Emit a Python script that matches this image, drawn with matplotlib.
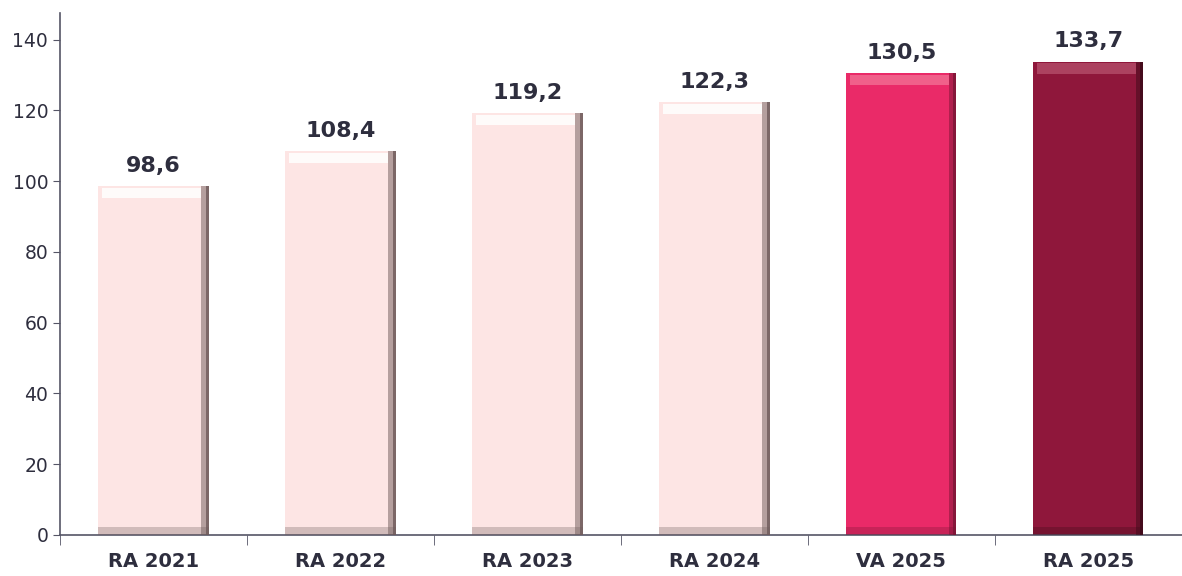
import numpy as np
import matplotlib.pyplot as plt

categories = ['RA 2021', 'RA 2022', 'RA 2023', 'RA 2024', 'VA 2025', 'RA 2025']
values = [98.6, 108.4, 119.2, 122.3, 130.5, 133.7]
labels = ['98,6', '108,4', '119,2', '122,3', '130,5', '133,7']
colors = ['#fde5e4', '#fde5e4', '#fde5e4', '#fde5e4', '#ea2a68', '#8f173b']
highlight = ['#ffffff', '#ffffff', '#ffffff', '#ffffff', '#f26a91', '#b24a67']
shade = ['#6e5a5a', '#6e5a5a', '#6e5a5a', '#6e5a5a', '#7a1535', '#3d0a19']

text_col = '#2e2e3e'
plt.rcParams['font.family'] = ['DejaVu Sans']

fig = plt.figure(figsize=(11.82, 5.76), dpi=100)
ax = fig.add_axes([0.0508, 0.0712, 0.949, 0.906])

x = np.arange(len(categories))
w = 0.59
ax.bar(x, values, width=w, color=colors, edgecolor='none', zorder=2)

# bevel: top highlight, right dark edge, bottom edge
for i, v in enumerate(values):
    ax.bar(x[i] - 0.01, 3.0, bottom=v - 3.4, width=w - 0.06, color=highlight[i],
           alpha=0.85, edgecolor='none', zorder=3)
    ax.bar(x[i] + w / 2 - 0.02, v, width=0.04, color=shade[i], alpha=0.5,
           edgecolor='none', zorder=3)
    ax.bar(x[i] + w / 2 - 0.008, v, width=0.016, color=shade[i], alpha=0.8,
           edgecolor='none', zorder=3)
    ax.bar(x[i], 2.2, width=w, color=shade[i], alpha=0.3,
           edgecolor='none', zorder=3)
    ax.text(x[i], v + 3.0, labels[i], ha='center', va='bottom',
            fontsize=16, fontweight='bold', color=text_col)

ax.set_xlim(-0.5, len(categories) - 0.5)
ax.set_ylim(0, 147.5)
ax.set_yticks(range(0, 141, 20))
ax.set_xticks(x)
ax.set_xticklabels(categories, fontsize=14, fontweight='bold', color=text_col)
ax.set_xticks(np.arange(-0.5, len(categories), 1), minor=True)
ax.tick_params(axis='x', which='major', length=0, pad=12)
ax.tick_params(axis='x', which='minor', length=7, color='#555566', direction='out')
ax.tick_params(axis='y', labelsize=13.5, colors=text_col, length=5, color='#555566')

for s in ['top', 'right']:
    ax.spines[s].set_visible(False)
for s in ['left', 'bottom']:
    ax.spines[s].set_color('#555566')
    ax.spines[s].set_linewidth(1.2)

fig.savefig('out.png', dpi=100)
